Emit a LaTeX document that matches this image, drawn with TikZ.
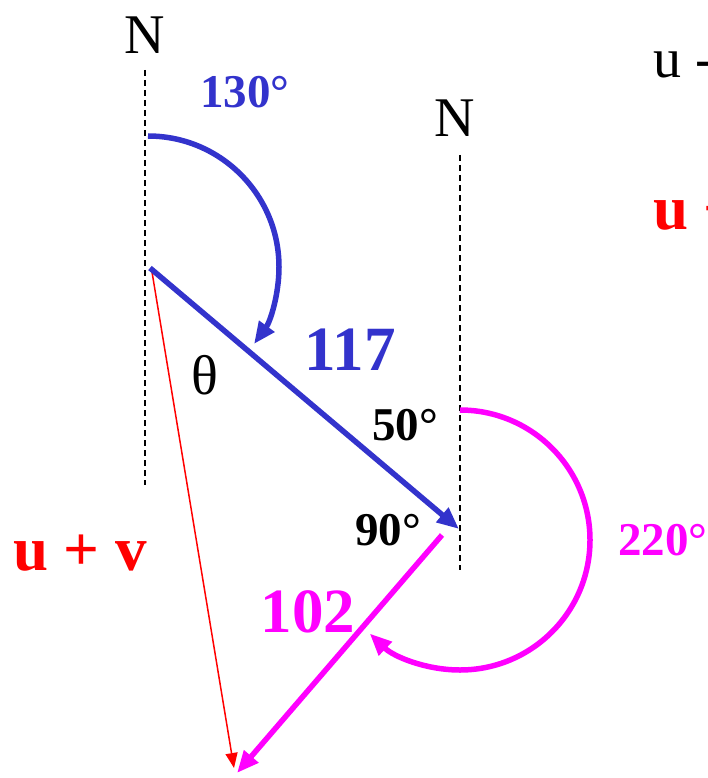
\documentclass[tikz,border=0pt]{standalone}
\usepackage{fontspec}
\setmainfont{Liberation Serif}
\usetikzlibrary{arrows.meta}

\definecolor{vecblue}{RGB}{51,51,204}
\definecolor{vecpink}{RGB}{255,0,255}
\definecolor{vecred}{RGB}{255,0,0}

\begin{document}
\begin{tikzpicture}[x=1pt, y=-1pt,
    northline/.style={line width=1.5pt, dash pattern=on 6pt off 4pt},
    bigtext/.style={font=\fontsize{56}{60}\selectfont},
    anglabel/.style={font=\bfseries\fontsize{47}{50}\selectfont},
    maglabel/.style={font=\bfseries\fontsize{63}{66}\selectfont},
    vecline/.style={line width=5.5pt, -{Triangle[length=22pt, width=18pt]}}]
    \useasboundingbox (0,0) rectangle (708,778);
    \clip (0,0) rectangle (708,778);
    % North lines
    \node[bigtext] (northA) at (145,35) {N};
    \node[bigtext] (northB) at (455,118) {N};
    \coordinate (topA) at (145,70);
    \coordinate (botA) at (145,485);
    \coordinate (topB) at (460,155);
    \coordinate (botB) at (460,570);
    \draw[northline] (topA) -- (botA);
    \draw[northline] (topB) -- (botB);
    % Vector points
    \coordinate (start) at (150,268);
    \coordinate (mid) at (459,529);
    \coordinate (pinkstart) at (442,535);
    \coordinate (pinkend) at (237,773);
    \coordinate (redstart) at (152,272);
    \coordinate (redend) at (234,768);
    % u + v
    \draw[vecred, line width=1.5pt, -{Triangle[length=15pt, width=12pt]}] (redstart) -- (redend);
    % u (blue)
    \draw[vecblue, vecline] (start) -- (mid);
    \draw[vecblue, vecline] (148,136) arc[start angle=90, end angle=-36, radius=131pt];
    % v (magenta)
    \draw[vecpink, vecline] (pinkstart) -- (pinkend);
    \draw[vecpink, vecline] (460,410) arc[start angle=90, end angle=-134, radius=130pt];
    % Labels
    \node[anglabel, vecblue] (angA) at (245,92) {130°};
    \node[maglabel, vecblue] (magA) at (350,350) {117};
    \node[bigtext] (theta) at (205,375) {θ};
    \node[anglabel] (angB) at (405,425) {50°};
    \node[anglabel] (angC) at (388,530) {90°};
    \node[anglabel, vecpink] (angD) at (663,540) {220°};
    \node[maglabel, vecpink] (magB) at (308,612) {102};
    \node[maglabel, vecred] (sum) at (80,553) {u + v};
    \node[bigtext, anchor=west, inner sep=0pt] (diff) at (653,65) {u -};
    \node[maglabel, vecred, anchor=west, inner sep=0pt] (sumB) at (653,212) {u +};
\end{tikzpicture}
\end{document}
